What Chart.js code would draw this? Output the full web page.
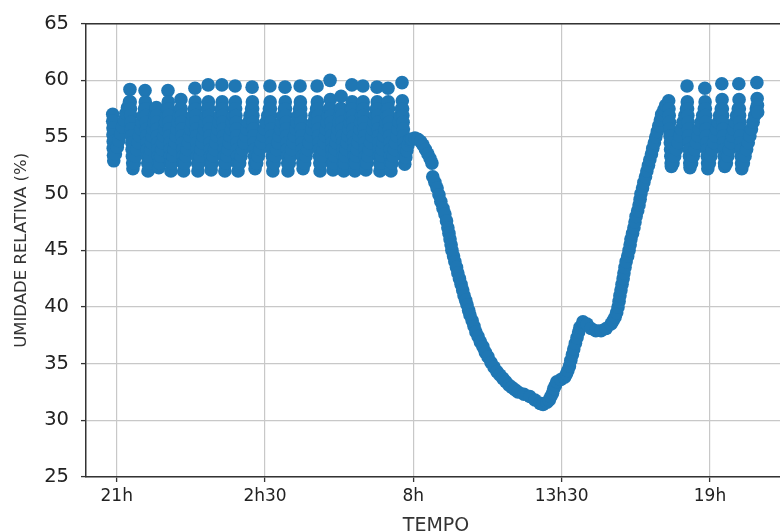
<!DOCTYPE html>
<html><head><meta charset="utf-8">
<script src="https://cdn.jsdelivr.net/npm/chart.js@4.4.1/dist/chart.umd.min.js"></script>
<style>
html,body{margin:0;padding:0;background:#fff;overflow:hidden;width:780px;height:532px}
#wrap{position:absolute;left:0;top:0;width:800px;height:532px}
</style></head>
<body><div id="wrap"><canvas id="c"></canvas></div>
<script>
// x values are hours elapsed since 21h
const tickHours = [0, 5.5, 11, 16.5, 22];
const tickLabels = ['21h', '2h30', '8h', '13h30', '19h'];
const yTicks = [25, 30, 35, 40, 45, 50, 55, 60, 65];

// [hours since 21h, relative humidity %]
const nightReadings = [
[-0.15,57.0],[-0.15,56.4],[-0.14,55.8],[-0.14,55.2],[-0.13,54.6],[-0.13,54.0],[-0.12,53.4],[-0.11,52.9],
[-0.05,53.5],[0.02,54.1],[0.08,54.7],[0.15,55.3],[0.21,55.9],[0.28,56.5],[0.34,57.1],[0.40,57.6],[0.47,58.1],
[0.49,59.2],[0.50,58.1],[0.51,57.5],[0.52,56.9],[0.53,56.3],[0.54,55.7],[0.55,55.1],[0.56,54.5],[0.57,53.9],[0.58,53.3],[0.59,52.7],[0.60,52.2],
[0.65,52.7],[0.70,53.3],[0.74,53.9],[0.79,54.5],[0.84,55.1],[0.89,55.7],[0.93,56.3],[0.98,56.9],[1.03,57.5],
[1.05,59.1],[1.06,58.1],[1.07,57.5],[1.08,56.9],[1.09,56.3],[1.10,55.7],[1.11,55.1],[1.12,54.5],[1.13,53.9],[1.14,53.3],[1.15,52.7],[1.16,52.0],
[1.19,52.7],[1.22,53.3],[1.26,53.9],[1.29,54.5],[1.32,55.1],[1.35,55.7],[1.38,56.3],[1.42,56.9],[1.45,57.5],
[1.47,57.6],[1.48,56.9],[1.49,56.3],[1.50,55.7],[1.51,55.1],[1.52,54.5],[1.53,53.9],[1.54,53.3],[1.55,52.7],[1.56,52.3],
[1.60,52.7],[1.63,53.3],[1.67,53.9],[1.70,54.5],[1.74,55.1],[1.78,55.7],[1.81,56.3],[1.85,56.9],[1.88,57.5],
[1.90,59.1],[1.91,58.1],[1.92,57.5],[1.93,56.9],[1.94,56.3],[1.95,55.7],[1.96,55.1],[1.97,54.5],[1.98,53.9],[1.99,53.3],[2.00,52.7],[2.01,52.0],
[2.05,52.7],[2.09,53.3],[2.13,53.9],[2.17,54.5],[2.21,55.1],[2.24,55.7],[2.28,56.3],[2.32,56.9],[2.36,57.5],
[2.38,58.3],[2.39,57.5],[2.40,56.9],[2.41,56.3],[2.42,55.7],[2.43,55.1],[2.44,54.5],[2.45,53.9],[2.46,53.3],[2.47,52.7],[2.48,52.0],
[2.52,52.7],[2.57,53.3],[2.61,53.9],[2.66,54.5],[2.70,55.1],[2.74,55.7],[2.79,56.3],[2.83,56.9],[2.88,57.5],
[2.90,59.3],[2.91,58.1],[2.92,57.5],[2.93,56.9],[2.94,56.3],[2.95,55.7],[2.96,55.1],[2.97,54.5],[2.98,53.9],[2.99,53.3],[3.00,52.7],[3.01,52.0],
[3.05,52.7],[3.09,53.3],[3.13,53.9],[3.17,54.5],[3.21,55.1],[3.25,55.7],[3.29,56.3],[3.33,56.9],[3.37,57.5],
[3.39,59.6],[3.40,58.1],[3.41,57.5],[3.42,56.9],[3.43,56.3],[3.44,55.7],[3.45,55.1],[3.46,54.5],[3.47,53.9],[3.48,53.3],[3.49,52.7],[3.50,52.1],
[3.54,52.7],[3.58,53.3],[3.63,53.9],[3.67,54.5],[3.71,55.1],[3.75,55.7],[3.79,56.3],[3.84,56.9],[3.88,57.5],
[3.90,59.6],[3.91,58.1],[3.92,57.5],[3.93,56.9],[3.94,56.3],[3.95,55.7],[3.96,55.1],[3.97,54.5],[3.98,53.9],[3.99,53.3],[4.00,52.7],[4.01,52.0],
[4.05,52.7],[4.09,53.3],[4.13,53.9],[4.17,54.5],[4.21,55.1],[4.25,55.7],[4.29,56.3],[4.33,56.9],[4.37,57.5],
[4.39,59.5],[4.40,58.1],[4.41,57.5],[4.42,56.9],[4.43,56.3],[4.44,55.7],[4.45,55.1],[4.46,54.5],[4.47,53.9],[4.48,53.3],[4.49,52.7],[4.50,52.0],
[4.56,52.7],[4.61,53.3],[4.67,53.9],[4.72,54.5],[4.78,55.1],[4.83,55.7],[4.89,56.3],[4.94,56.9],[5.00,57.5],
[5.02,59.4],[5.03,58.1],[5.04,57.5],[5.05,56.9],[5.06,56.3],[5.07,55.7],[5.08,55.1],[5.09,54.5],[5.10,53.9],[5.11,53.3],[5.12,52.7],[5.13,52.2],
[5.19,52.7],[5.25,53.3],[5.31,53.9],[5.37,54.5],[5.43,55.1],[5.48,55.7],[5.54,56.3],[5.60,56.9],[5.66,57.5],
[5.68,59.5],[5.69,58.1],[5.70,57.5],[5.71,56.9],[5.72,56.3],[5.73,55.7],[5.74,55.1],[5.75,54.5],[5.76,53.9],[5.77,53.3],[5.78,52.7],[5.79,52.0],
[5.84,52.7],[5.89,53.3],[5.93,53.9],[5.98,54.5],[6.03,55.1],[6.08,55.7],[6.12,56.3],[6.17,56.9],[6.22,57.5],
[6.24,59.4],[6.25,58.1],[6.26,57.5],[6.27,56.9],[6.28,56.3],[6.29,55.7],[6.30,55.1],[6.31,54.5],[6.32,53.9],[6.33,53.3],[6.34,52.7],[6.35,52.0],
[6.40,52.7],[6.45,53.3],[6.49,53.9],[6.54,54.5],[6.59,55.1],[6.64,55.7],[6.68,56.3],[6.73,56.9],[6.78,57.5],
[6.80,59.5],[6.81,58.1],[6.82,57.5],[6.83,56.9],[6.84,56.3],[6.85,55.7],[6.86,55.1],[6.87,54.5],[6.88,53.9],[6.89,53.3],[6.90,52.7],[6.91,52.2],
[6.97,52.7],[7.02,53.3],[7.08,53.9],[7.13,54.5],[7.19,55.1],[7.24,55.7],[7.30,56.3],[7.35,56.9],[7.41,57.5],
[7.43,59.5],[7.44,58.1],[7.45,57.5],[7.46,56.9],[7.47,56.3],[7.48,55.7],[7.49,55.1],[7.50,54.5],[7.51,53.9],[7.52,53.3],[7.53,52.7],[7.54,52.0],
[7.58,52.7],[7.62,53.3],[7.66,53.9],[7.70,54.5],[7.74,55.1],[7.77,55.7],[7.81,56.3],[7.85,56.9],[7.89,57.5],
[7.91,60.0],[7.92,58.3],[7.93,57.5],[7.94,56.9],[7.95,56.3],[7.96,55.7],[7.97,55.1],[7.98,54.5],[7.99,53.9],[8.00,53.3],[8.01,52.7],[8.02,52.1],
[8.05,52.7],[8.08,53.3],[8.11,53.9],[8.14,54.5],[8.18,55.1],[8.21,55.7],[8.24,56.3],[8.27,56.9],[8.30,57.5],
[8.32,58.6],[8.33,57.5],[8.34,56.9],[8.35,56.3],[8.36,55.7],[8.37,55.1],[8.38,54.5],[8.39,53.9],[8.40,53.3],[8.41,52.7],[8.42,52.0],
[8.45,52.7],[8.48,53.3],[8.51,53.9],[8.54,54.5],[8.58,55.1],[8.61,55.7],[8.64,56.3],[8.67,56.9],[8.70,57.5],
[8.72,59.6],[8.73,58.1],[8.74,57.5],[8.75,56.9],[8.76,56.3],[8.77,55.7],[8.78,55.1],[8.79,54.5],[8.80,53.9],[8.81,53.3],[8.82,52.7],[8.83,52.0],
[8.86,52.7],[8.89,53.3],[8.92,53.9],[8.95,54.5],[8.99,55.1],[9.02,55.7],[9.05,56.3],[9.08,56.9],[9.11,57.5],
[9.13,59.5],[9.14,58.1],[9.15,57.5],[9.16,56.9],[9.17,56.3],[9.18,55.7],[9.19,55.1],[9.20,54.5],[9.21,53.9],[9.22,53.3],[9.23,52.7],[9.24,52.1],
[9.28,52.7],[9.33,53.3],[9.37,53.9],[9.41,54.5],[9.46,55.1],[9.50,55.7],[9.54,56.3],[9.59,56.9],[9.63,57.5],
[9.65,59.4],[9.66,58.1],[9.67,57.5],[9.68,56.9],[9.69,56.3],[9.70,55.7],[9.71,55.1],[9.72,54.5],[9.73,53.9],[9.74,53.3],[9.75,52.7],[9.76,52.0],
[9.79,52.7],[9.82,53.3],[9.85,53.9],[9.88,54.5],[9.92,55.1],[9.95,55.7],[9.98,56.3],[10.01,56.9],[10.04,57.5],
[10.06,59.3],[10.07,58.1],[10.08,57.5],[10.09,56.9],[10.10,56.3],[10.11,55.7],[10.12,55.1],[10.13,54.5],[10.14,53.9],[10.15,53.3],[10.16,52.7],[10.17,52.0],
[10.21,52.7],[10.26,53.3],[10.30,53.9],[10.34,54.5],[10.39,55.1],[10.43,55.7],[10.47,56.3],[10.52,56.9],[10.56,57.5],
[10.58,59.8],[10.59,58.2],[10.60,57.5],[10.61,56.9],[10.62,56.3],[10.63,55.7],[10.64,55.1],[10.65,54.5],[10.66,53.9],[10.67,53.3],[10.68,52.6],
[10.72,53.2],[10.76,53.8],[10.80,54.3],[10.85,54.7],[10.90,54.8]
];

const dayReadings = [
[10.95,54.8],[11.06,54.9],[11.17,54.8],[11.27,54.6],[11.36,54.3],[11.45,53.9],[11.54,53.5],[11.62,53.1],
[11.69,52.7],[11.72,51.5],[11.80,51.0],[11.88,50.5],[11.95,49.9],[12.02,49.3],[12.10,48.7],[12.17,48.2],
[12.23,47.6],[12.28,47.0],[12.32,46.5],[12.36,46.0],[12.40,45.5],[12.43,45.0],[12.49,44.5],[12.54,44.0],
[12.60,43.5],[12.65,43.0],[12.71,42.5],[12.77,42.0],[12.83,41.5],[12.88,41.0],[12.94,40.6],[12.99,40.2],
[13.05,39.7],[13.10,39.3],[13.18,38.8],[13.25,38.3],[13.32,37.8],[13.40,37.4],[13.49,36.9],[13.58,36.5],
[13.67,36.0],[13.77,35.6],[13.88,35.1],[13.99,34.7],[14.10,34.3],[14.21,34.0],[14.32,33.7],[14.43,33.4],
[14.55,33.1],[14.66,32.9],[14.77,32.7],[14.88,32.5],[15.10,32.3],[15.32,32.1],[15.51,31.8],[15.70,31.5],
[15.81,31.4],[15.96,31.6],[16.04,31.8],[16.10,32.1],[16.16,32.4],[16.21,32.8],[16.27,33.1],[16.32,33.4],
[16.47,33.6],[16.61,33.8],[16.68,34.1],[16.73,34.4],[16.79,34.8],[16.84,35.3],[16.90,35.8],[16.95,36.3],
[17.01,36.8],[17.07,37.3],[17.13,37.8],[17.18,38.2],[17.29,38.7],[17.44,38.5],[17.59,38.1],[17.77,37.9],
[17.96,37.9],[18.15,38.1],[18.33,38.5],[18.41,38.8],[18.48,39.1],[18.54,39.5],[18.59,40.0],[18.63,40.5],
[18.66,41.0],[18.70,41.5],[18.74,42.0],[18.78,42.5],[18.81,43.0],[18.85,43.5],[18.89,44.0],[18.95,44.5],
[19.00,45.0],[19.04,45.5],[19.07,46.0],[19.13,46.5],[19.18,47.0],[19.22,47.5],[19.26,48.0],[19.32,48.5],
[19.37,49.0],[19.41,49.5],[19.44,50.0],[19.50,50.5],[19.55,51.0],[19.61,51.5],[19.66,52.0],[19.72,52.5],
[19.77,53.0],[19.83,53.5],[19.88,54.0],[19.94,54.5],[19.99,55.0],[20.05,55.5],[20.10,56.0],[20.16,56.5],
[20.21,57.0],[20.29,57.4],[20.36,57.8],[20.47,58.2]
];

const eveningReadings = [
[20.48,57.5],[20.49,56.9],[20.50,56.3],[20.51,55.7],[20.52,55.1],[20.53,54.5],[20.54,53.9],[20.55,53.3],[20.56,52.7],[20.57,52.4],
[20.63,52.7],[20.69,53.3],[20.76,53.9],[20.82,54.5],[20.88,55.1],[20.94,55.7],[21.00,56.3],[21.07,56.9],[21.13,57.5],
[21.15,59.5],[21.16,58.1],[21.17,57.5],[21.18,56.9],[21.19,56.3],[21.20,55.7],[21.21,55.1],[21.22,54.5],[21.23,53.9],[21.24,53.3],[21.25,52.7],[21.26,52.3],
[21.32,52.7],[21.38,53.3],[21.44,53.9],[21.50,54.5],[21.56,55.1],[21.61,55.7],[21.67,56.3],[21.73,56.9],[21.79,57.5],
[21.81,59.3],[21.82,58.1],[21.83,57.5],[21.84,56.9],[21.85,56.3],[21.86,55.7],[21.87,55.1],[21.88,54.5],[21.89,53.9],[21.90,53.3],[21.91,52.7],[21.92,52.2],
[21.98,52.7],[22.03,53.3],[22.09,53.9],[22.14,54.5],[22.20,55.1],[22.25,55.7],[22.31,56.3],[22.36,56.9],[22.42,57.5],
[22.44,59.7],[22.45,58.3],[22.46,57.5],[22.47,56.9],[22.48,56.3],[22.49,55.7],[22.50,55.1],[22.51,54.5],[22.52,53.9],[22.53,53.3],[22.54,52.7],[22.55,52.4],
[22.61,52.7],[22.66,53.3],[22.72,53.9],[22.77,54.5],[22.83,55.1],[22.88,55.7],[22.94,56.3],[22.99,56.9],[23.05,57.5],
[23.07,59.7],[23.08,58.3],[23.09,57.5],[23.10,56.9],[23.11,56.3],[23.12,55.7],[23.13,55.1],[23.14,54.5],[23.15,53.9],[23.16,53.3],[23.17,52.7],[23.18,52.2],
[23.24,52.7],[23.30,53.3],[23.36,53.9],[23.42,54.5],[23.48,55.1],[23.54,55.7],[23.60,56.3],[23.66,56.9],[23.72,57.5],
[23.74,59.8],[23.75,58.4],[23.76,57.8],[23.77,57.2]
];

const points = nightReadings.concat(dayReadings, eveningReadings).map(([h, v]) => ({x: h, y: v}));

Chart.defaults.font.family = "'DejaVu Sans', sans-serif";

const topSpine = {
  id: 'topSpine',
  afterDraw(chart) {
    const {ctx, chartArea: a} = chart;
    ctx.save();
    ctx.strokeStyle = '#333';
    ctx.lineWidth = 1.5;
    ctx.beginPath();
    ctx.moveTo(a.left, a.top);
    ctx.lineTo(a.right, a.top);
    ctx.stroke();
    ctx.restore();
  }
};

new Chart(document.getElementById('c'), {
  type: 'scatter',
  data: {
    datasets: [{
      data: points,
      backgroundColor: '#1f77b4',
      borderWidth: 0,
      pointRadius: 6.8,
      pointHoverRadius: 6.8
    }]
  },
  options: {
    responsive: true,
    maintainAspectRatio: false,
    animation: false,
    events: [],
    layout: { padding: { left: 0, right: 14, top: 17, bottom: 0 } },
    plugins: { legend: { display: false }, tooltip: { enabled: false } },
    scales: {
      x: {
        type: 'linear',
        min: -1.14,
        max: 24.82,
        afterBuildTicks: (axis) => { axis.ticks = tickHours.map(v => ({ value: v })); },
        afterFit: (axis) => { axis.height = 55; },
        ticks: {
          autoSkip: false,
          maxRotation: 0,
          font: { size: 17 },
          color: '#222',
          padding: 4,
          callback: (v) => { const i = tickHours.indexOf(v); return i >= 0 ? tickLabels[i] : ''; }
        },
        grid: { color: '#c8c8c8', lineWidth: 1.2, tickLength: 5, tickColor: '#333', tickWidth: 1.3 },
        border: { color: '#333', width: 1.5 },
        title: {
          display: true, text: 'TEMPO', color: '#333',
          font: { size: 19 }, padding: { top: 0, bottom: -5 }
        }
      },
      y: {
        min: 25,
        max: 65,
        afterBuildTicks: (axis) => { axis.ticks = yTicks.map(v => ({ value: v })); },
        afterFit: (axis) => { axis.width = 86; },
        ticks: { font: { size: 19.5 }, color: '#222', padding: 12 },
        grid: { color: '#c8c8c8', lineWidth: 1.2, tickLength: 5, tickColor: '#333', tickWidth: 1.3 },
        border: { color: '#333', width: 1.5 },
        title: {
          display: true, text: 'UMIDADE RELATIVA (%)', color: '#333',
          font: { size: 16.5 }, padding: { top: 12, bottom: 0 }
        }
      }
    }
  },
  plugins: [topSpine]
});
</script>
</body></html>
